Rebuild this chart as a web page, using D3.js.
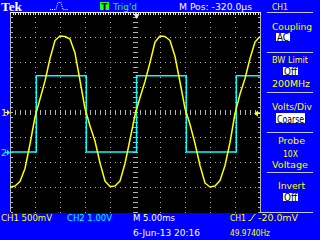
<!DOCTYPE html>
<html>
<head>
<meta charset="utf-8">
<script src="https://cdn.jsdelivr.net/npm/d3@7"></script>
<style>
  html, body { margin: 0; padding: 0; background: #0000ff; }
  svg { display: block; }
  text { font-family: "DejaVu Sans", "Liberation Sans", sans-serif; }
</style>
</head>
<body>
<svg id="scope" width="320" height="240"></svg>
<script>
// acquisition: 10 div x 5 ms, one sample per ms
const sampleMs = 1;
const ch1Volts = [
  -1.50, -1.48, -1.39, -1.13, -0.64, -0.10, 0.26, 0.62, 1.07, 1.43,
   1.52,  1.51,  1.46,  1.18,  0.63,  0.07, -0.28, -0.58, -1.02, -1.38,
  -1.49, -1.48, -1.38, -1.03, -0.55, -0.06, 0.29, 0.61, 0.99, 1.40,
   1.52,  1.51,  1.43,  1.11,  0.60,  0.07, -0.25, -0.63, -1.07, -1.42,
  -1.50, -1.48, -1.37, -1.07, -0.61, -0.03, 0.36, 0.67, 1.07, 1.40,
   1.51
];
// CH2 square wave: level changes (ms, volts)
const ch2Times = [0, 5.25, 15.25, 25.3, 35.25, 45.25, 50];
const ch2Volts = [0, 3.05, 0, 3.05, 0, 3.05, 3.05];

const ch1VoltsDiv = 0.5;
const ch2VoltsDiv = 1.0;
const ch2Offset = -1.6;   // divisions
const trigLevel = -0.02;  // V on CH1
const mPos = -0.32;       // ms

const YELLOW = '#ffff00', CYAN = '#00ffff', GREEN = '#22ff22', GRID = '#b4b4b4';

const svg = d3.select('#scope');
const grat = { left: 10, right: 260, top: 12, bottom: 212 };

const x = d3.scaleLinear().domain([0, 50]).range([grat.left, grat.right]);
const y1 = d3.scaleLinear().domain([-4 * ch1VoltsDiv, 4 * ch1VoltsDiv]).range([grat.bottom, grat.top]);
const y2 = d3.scaleLinear()
    .domain([(-4 - ch2Offset) * ch2VoltsDiv, (4 - ch2Offset) * ch2VoltsDiv])
    .range([grat.bottom, grat.top]);

svg.append('rect').attr('width', 320).attr('height', 240).attr('fill', '#0000ff');
svg.append('rect')
    .attr('x', grat.left).attr('y', grat.top)
    .attr('width', grat.right - grat.left + 1).attr('height', grat.bottom - grat.top + 1)
    .attr('fill', '#000');

// graticule
const gridG = svg.append('g').attr('fill', GRID);
const divT = d3.range(5, 50, 5);
const divV = d3.range(-1.5, 1.51, 0.5);

function dot(px, py, w, h) {
    gridG.append('rect')
        .attr('x', Math.round(px)).attr('y', Math.round(py))
        .attr('width', w || 1).attr('height', h || 1);
}

divT.filter(t => t !== 25).forEach(t => {
    d3.range(-2, 2.001, 0.1).forEach(v => dot(x(t), y1(v)));
});
divV.filter(v => Math.abs(v) > 0.01).forEach(v => {
    d3.range(0, 50.001, 1).forEach(t => dot(x(t), y1(v)));
});
// centre cross with minor ticks
d3.range(0, 50.001, 1).forEach(t => dot(x(t), y1(0) - 2, 1, 5));
d3.range(-2, 2.001, 0.1).forEach(v => dot(x(25) - 2, y1(v), 5, 1));
// side edges
gridG.append('rect').attr('x', grat.left).attr('y', grat.top).attr('width', 1).attr('height', grat.bottom - grat.top);
gridG.append('rect').attr('x', grat.right).attr('y', grat.top).attr('width', 1).attr('height', grat.bottom - grat.top);
d3.range(-2, 2.001, 0.1).forEach(v => {
    dot(grat.left + 1, y1(v), 2, 1);
    dot(grat.right - 2, y1(v), 2, 1);
});

// record ruler on top
const ruler = svg.append('g').attr('fill', '#e8e8e8');
ruler.append('rect').attr('x', grat.left).attr('y', grat.top).attr('width', grat.right - grat.left + 1).attr('height', 1);
d3.range(grat.left, grat.right + 1, 2.5).forEach(px => {
    ruler.append('rect').attr('x', Math.round(px)).attr('y', grat.top + 1).attr('width', 1).attr('height', 2);
});
const trigX = x(25 - mPos);
ruler.append('path')
    .attr('d', `M${trigX - 3},14 L${trigX + 3},14 L${trigX},19 Z M${trigX - 0.5},12 h1 v3 h-1 Z`);

// traces
svg.append('clipPath').attr('id', 'clip')
  .append('rect').attr('x', grat.left).attr('y', grat.top)
  .attr('width', grat.right - grat.left + 1).attr('height', grat.bottom - grat.top + 1);

const ch2Line = d3.line()
    .x((d, i) => x(ch2Times[i]))
    .y(d => y2(d))
    .curve(d3.curveStepAfter);
svg.append('path')
    .datum(ch2Volts)
    .attr('clip-path', 'url(#clip)')
    .attr('fill', 'none').attr('stroke', CYAN).attr('stroke-width', 1.5)
    .attr('d', ch2Line);

const ch1Line = d3.line()
    .x((d, i) => x(i * sampleMs))
    .y(d => y1(d));
svg.append('path')
    .datum(ch1Volts)
    .attr('clip-path', 'url(#clip)')
    .attr('fill', 'none').attr('stroke', YELLOW).attr('stroke-width', 1.5)
    .attr('stroke-linejoin', 'round')
    .attr('d', ch1Line);

// ground markers and trigger level
function groundMark(label, py, color) {
    svg.append('text').attr('x', 1).attr('y', py + 3.5).attr('fill', color)
        .attr('font-size', 9.5).text(label);
    svg.append('path').attr('fill', color)
        .attr('d', `M5,${py - 0.5} h2 v1 h-2 Z M7,${py - 3} L10,${py} L7,${py + 3} Z`);
}
groundMark('1', Math.round(y1(0)) + 0.5, YELLOW);
groundMark('2', Math.round(y2(0)) + 0.5, CYAN);

const trigY = Math.round(y1(trigLevel)) + 0.5;
svg.append('path').attr('fill', YELLOW)
    .attr('d', `M254,${trigY} L258,${trigY - 3} L258,${trigY + 3} Z M258,${trigY - 0.5} h2 v1 h-2 Z`);

// text helper
function label(px, py, s, color, opts) {
    opts = opts || {};
    const t = svg.append('text')
        .attr('x', px).attr('y', py)
        .attr('fill', color)
        .attr('font-size', opts.size || 9.5)
        .attr('text-anchor', opts.anchor || 'start')
        .text(s);
    if (opts.len) t.attr('textLength', opts.len).attr('lengthAdjust', 'spacingAndGlyphs');
    if (opts.weight) t.attr('font-weight', opts.weight);
    if (opts.family) t.style('font-family', opts.family);
    return t;
}
function boxed(bx, by, bw, bh, s) {
    svg.append('rect').attr('x', bx).attr('y', by).attr('width', bw).attr('height', bh).attr('fill', '#fff');
    label(bx + bw / 2, by + bh - 0.5, s, '#000', { anchor: 'middle', len: bw - 2, size: 10 });
}
function sep(py, x0, x1) {
    svg.append('rect').attr('x', x0).attr('y', py).attr('width', x1 - x0).attr('height', 1).attr('fill', '#c8c8e8');
}

// top bar
label(1, 10.5, 'Tek', '#fff', { size: 12, weight: 'bold', family: '"Liberation Serif", serif', len: 21 });
svg.append('path')
    .attr('fill', 'none').attr('stroke', '#fff').attr('stroke-width', 1)
    .attr('stroke-dasharray', '1,1')
    .attr('d', 'M50,9.5 H56 L58,2.5 H61 L63,9.5 H68');
svg.append('rect').attr('x', 100).attr('y', 2).attr('width', 9).attr('height', 8).attr('fill', GREEN);
label(104.5, 9.5, 'T', '#000', { anchor: 'middle', size: 9, weight: 'bold' });
label(113, 9.5, "Trig'd", GREEN, { len: 24 });
label(179, 9.5, `M Pos: ${(mPos * 1000).toFixed(1)}\u00b5s`, '#fff', { len: 73 });
label(272, 9.5, 'CH1', YELLOW, { len: 16 });
sep(12, 267, 313);

// side menu
label(292, 29.5, 'Coupling', YELLOW, { anchor: 'middle', len: 40 });
boxed(276, 33, 14, 8, 'AC');
sep(52, 267, 313);
label(290, 63, 'BW Limit', YELLOW, { anchor: 'middle', len: 36 });
boxed(283, 67, 15, 8, 'Off');
label(291, 86.5, '200MHz', YELLOW, { anchor: 'middle', len: 38 });
sep(92, 267, 313);
label(292, 109.5, 'Volts/Div', YELLOW, { anchor: 'middle', len: 40 });
boxed(276, 113, 29, 10, 'Coarse');
sep(132, 267, 313);
label(291.5, 144, 'Probe', YELLOW, { anchor: 'middle', len: 27 });
label(290.5, 156.5, '10X', YELLOW, { anchor: 'middle', len: 15 });
label(290, 168, 'Voltage', YELLOW, { anchor: 'middle', len: 36 });
sep(172, 267, 313);
label(291.5, 188.5, 'Invert', YELLOW, { anchor: 'middle', len: 27 });
boxed(283, 193, 15, 8, 'Off');
sep(212, 260, 313);

// bottom readouts
label(1, 220.5, `CH1 ${ch1VoltsDiv * 1000}mV`, YELLOW, { len: 51 });
label(67, 220.5, `CH2 ${ch2VoltsDiv.toFixed(2)}V`, CYAN, { len: 45 });
label(133, 220.5, 'M 5.00ms', '#fff', { len: 42 });
label(230, 220.5, 'CH1', YELLOW, { len: 16 });
svg.append('path').attr('fill', 'none').attr('stroke', YELLOW).attr('stroke-width', 1)
    .attr('d', 'M248.5,220.5 h2 l4,-6 h1');
label(258, 220.5, `${(trigLevel * 1000).toFixed(1)}mV`, YELLOW, { len: 40 });
label(133, 235.5, '6-Jun-13 20:16', '#fff', { len: 67 });
label(230, 235.5, '49.9740Hz', YELLOW, { len: 40 });
</script>
</body>
</html>
